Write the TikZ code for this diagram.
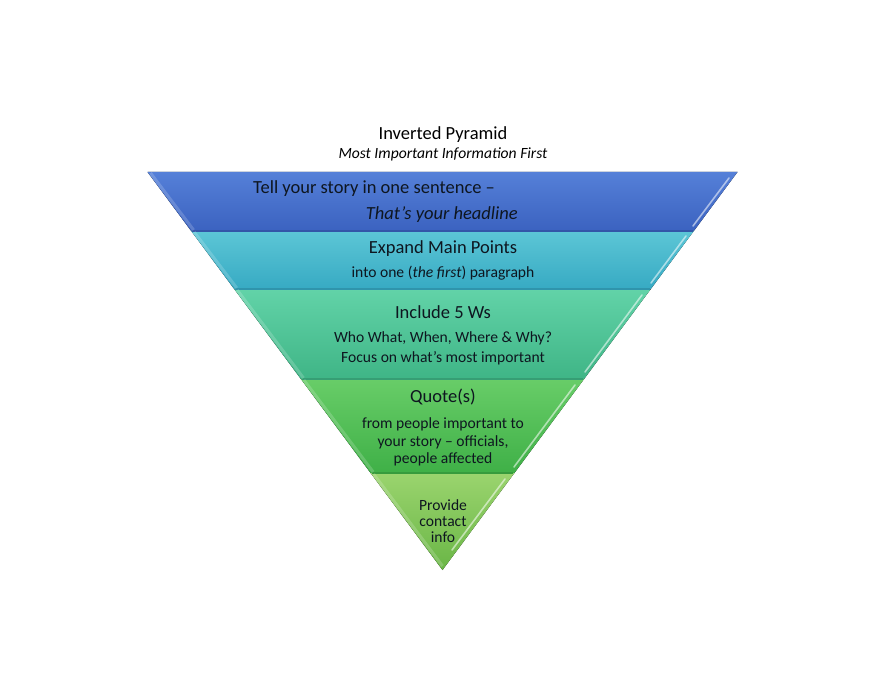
\documentclass[tikz,border=0pt]{standalone}
\usepackage{fontspec}
\setmainfont{Carlito}
\begin{document}
\begin{tikzpicture}[x=1pt,y=-1pt,
  band/.style={draw=none},
  hilite/.style={white,opacity=0.55,line width=1.6pt,line cap=round},
  lbevel/.style={white,opacity=0.18,line width=3pt},
  bedge/.style={line width=1.4pt},
  head/.style={anchor=base,inner sep=0pt,font=\fontsize{18.5}{20}\selectfont,text=txt},
  body/.style={anchor=base,inner sep=0pt,font=\fontsize{15.6}{17}\selectfont,text=txt}]
\definecolor{txt}{HTML}{0E1620}
\definecolor{bAt}{HTML}{5580D8}\definecolor{bAb}{HTML}{3B62C0}\definecolor{bAe}{HTML}{3356A8}
\definecolor{bBt}{HTML}{5CC6D6}\definecolor{bBb}{HTML}{37AAC3}\definecolor{bBe}{HTML}{2F94AC}
\definecolor{bCt}{HTML}{62D3A8}\definecolor{bCb}{HTML}{3FB586}\definecolor{bCe}{HTML}{369E74}
\definecolor{bDt}{HTML}{68CD68}\definecolor{bDb}{HTML}{3FB047}\definecolor{bDe}{HTML}{379B3D}
\definecolor{bEt}{HTML}{9AD46E}\definecolor{bEb}{HTML}{6AB646}
\useasboundingbox[fill=white] (0,0) rectangle (886,695);
% corner coordinates
\coordinate (L0) at (147.5,172); \coordinate (R0) at (737.5,172);
\coordinate (L1) at (191.2,231); \coordinate (R1) at (693.8,231);
\coordinate (L2) at (234.2,289); \coordinate (R2) at (650.8,289);
\coordinate (L3) at (300.9,379); \coordinate (R3) at (584.1,379);
\coordinate (L4) at (370.6,473); \coordinate (R4) at (514.4,473);
\coordinate (A) at (442.5,570);
% bands
\fill[band,top color=bAt,bottom color=bAb] (L0) -- (R0) -- (R1) -- (L1) -- cycle;
\fill[band,top color=bBt,bottom color=bBb] (L1) -- (R1) -- (R2) -- (L2) -- cycle;
\fill[band,top color=bCt,bottom color=bCb] (L2) -- (R2) -- (R3) -- (L3) -- cycle;
\fill[band,top color=bDt,bottom color=bDb] (L3) -- (R3) -- (R4) -- (L4) -- cycle;
\fill[band,top color=bEt,bottom color=bEb] (L4) -- (R4) -- (A) -- cycle;
% bottom edges
\draw[bedge,bAe] ([xshift=1pt]L1) -- ([xshift=-1pt]R1);
\draw[bedge,bBe] ([xshift=1pt]L2) -- ([xshift=-1pt]R2);
\draw[bedge,bCe] ([xshift=1pt]L3) -- ([xshift=-1pt]R3);
\draw[bedge,bDe] ([xshift=1pt]L4) -- ([xshift=-1pt]R4);
% left bevels
\draw[lbevel] (150.5,173) -- (193.6,230);
\draw[lbevel] (194.2,232) -- (236.8,288);
\draw[lbevel] (237.2,290) -- (303.5,378);
\draw[lbevel] (303.9,380) -- (373.2,472);
\draw[lbevel] (373.6,474) -- (442.5,566);
% right highlights
\coordinate (h1a) at (729,178); \coordinate (h1b) at (693,226);
\coordinate (h2a) at (686,236); \coordinate (h2b) at (651,283);
\coordinate (h3a) at (642,295); \coordinate (h3b) at (585,372);
\coordinate (h4a) at (575,385); \coordinate (h4b) at (514,467);
\coordinate (h5a) at (505,479); \coordinate (h5b) at (452,550);
\draw[hilite] (h1a) -- (h1b);
\draw[hilite] (h2a) -- (h2b);
\draw[hilite] (h3a) -- (h3b);
\draw[hilite] (h4a) -- (h4b);
\draw[hilite] (h5a) -- (h5b);
% title
\node[head,text=black] (title) at (443,140) {Inverted Pyramid};
\node[body,text=black,font=\fontsize{15.6}{17}\selectfont\itshape] (subtitle) at (443,159) {Most Important Information First};
% band 1
\node[head,anchor=base west] (t1a) at (253,194) {Tell your story in one sentence –};
\node[head,anchor=base east,font=\fontsize{18.5}{20}\selectfont\itshape] (t1b) at (518,220) {That’s your headline};
% band 2
\node[head] (t2a) at (443,253) {Expand Main Points};
\node[body] (t2b) at (443,277) {into one (\textit{the first}) paragraph};
% band 3
\node[head] (t3a) at (443,318) {Include 5 Ws};
\node[body] (t3b) at (443,342) {Who What, When, Where \& Why?};
\node[body] (t3c) at (443,362) {Focus on what’s most important};
% band 4
\node[head] (t4a) at (443,402) {Quote(s)};
\node[body] (t4b) at (443,428) {from people important to};
\node[body] (t4c) at (443,446) {your story – officials,};
\node[body] (t4d) at (443,463) {people affected};
% band 5
\node[body] (t5a) at (443,510) {Provide};
\node[body] (t5b) at (443,526) {contact};
\node[body] (t5c) at (443,542) {info};
\end{tikzpicture}
\end{document}
